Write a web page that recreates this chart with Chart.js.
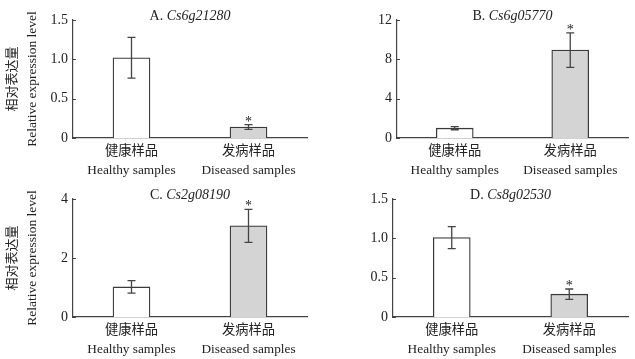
<!DOCTYPE html>
<html>
<head>
<meta charset="utf-8">
<script src="https://cdn.jsdelivr.net/npm/chart.js@4.4.0/dist/chart.umd.min.js"></script>
<style>
    body { margin: 0; background: #fff; }
    #wrap { position: relative; width: 635px; height: 359px; }
    .panel { position: absolute; width: 315px; height: 180px; }
</style>
</head>
<body>
<div id="wrap">
    <div class="panel" style="left:0;top:0"><canvas id="chart-a"></canvas></div>
    <div class="panel" style="left:315px;top:0"><canvas id="chart-b"></canvas></div>
    <div class="panel" style="left:0;top:179px"><canvas id="chart-c"></canvas></div>
    <div class="panel" style="left:315px;top:179px"><canvas id="chart-d"></canvas></div>
</div>
<script>
// categories (two-line labels)
var categories = [['健康样品', 'Healthy samples'], ['发病样品', 'Diseased samples']];

// panel titles
var panel_letters = ['A.', 'B.', 'C.', 'D.'];
var gene_names = ['Cs6g21280', 'Cs6g05770', 'Cs2g08190', 'Cs8g02530'];

// mean relative expression (healthy, diseased)
var values_a = [1.02, 0.14];
var values_b = [1.00, 8.94];
var values_c = [1.02, 3.09];
var values_d = [1.01, 0.29];

// error bar half-lengths
var errors_a = [0.26, 0.03];
var errors_b = [0.16, 1.76];
var errors_c = [0.21, 0.56];
var errors_d = [0.14, 0.066];

// significance marks
var stars = ['', '*'];

// y ticks
var ticks_a = [0, 0.5, 1.0, 1.5];
var ticks_b = [0, 4, 8, 12];
var ticks_c = [0, 2, 4];
var ticks_d = [0, 0.5, 1.0, 1.5];

var y_title_cn = '相对表达量';
var y_title_en = 'Relative expression level';

var SERIF = '"Liberation Serif", "Times New Roman", "Noto Sans CJK SC", serif';
var AXIS_COLOR = '#444';

var panelDecor = {
    id: 'panelDecor',
    afterDatasetsDraw: function (chart, args, opts) {
        var ctx = chart.ctx;
        var area = chart.chartArea;
        var y = chart.scales.y;
        var meta = chart.getDatasetMeta(0);

        ctx.save();

        // inward tick marks on the y axis
        ctx.strokeStyle = AXIS_COLOR;
        ctx.lineWidth = 1;
        y.ticks.forEach(function (t) {
            var py = Math.round(y.getPixelForValue(t.value)) + 0.5;
            ctx.beginPath();
            ctx.moveTo(area.left, py);
            ctx.lineTo(area.left + 3, py);
            ctx.stroke();
        });

        // error bars and asterisks
        ctx.strokeStyle = '#444';
        ctx.lineWidth = 1.3;
        opts.values.forEach(function (v, i) {
            var px = meta.data[i].x;
            var top = y.getPixelForValue(v + opts.errors[i]);
            var bot = y.getPixelForValue(v - opts.errors[i]);
            ctx.beginPath();
            ctx.moveTo(px, top);
            ctx.lineTo(px, bot);
            ctx.moveTo(px - 4, top);
            ctx.lineTo(px + 4, top);
            ctx.moveTo(px - 4, bot);
            ctx.lineTo(px + 4, bot);
            ctx.stroke();
            if (stars[i]) {
                ctx.fillStyle = '#222';
                ctx.font = '14px ' + SERIF;
                ctx.textAlign = 'center';
                ctx.textBaseline = 'alphabetic';
                ctx.fillText(stars[i], px, top + 1);
            }
        });

        // panel title: letter upright, gene name italic
        ctx.fillStyle = '#222';
        ctx.textBaseline = 'alphabetic';
        ctx.textAlign = 'left';
        ctx.font = '14px ' + SERIF;
        var pre = opts.letter + ' ';
        var w1 = ctx.measureText(pre).width;
        ctx.font = 'italic 14px ' + SERIF;
        var w2 = ctx.measureText(opts.gene).width;
        var sx = (area.left + area.right) / 2 - (w1 + w2) / 2;
        ctx.font = '14px ' + SERIF;
        ctx.fillText(pre, sx, 20);
        ctx.font = 'italic 14px ' + SERIF;
        ctx.fillText(opts.gene, sx + w1, 20);

        // y axis title, two lines
        if (opts.yTitle) {
            var cy = (area.top + area.bottom) / 2;
            ctx.translate(0, cy);
            ctx.rotate(-Math.PI / 2);
            ctx.textAlign = 'center';
            ctx.textBaseline = 'middle';
            ctx.font = '13px ' + SERIF;
            ctx.fillText(y_title_cn, 0, 13);
            ctx.font = '13.5px ' + SERIF;
            ctx.fillText(y_title_en, 0, 32);
        }

        ctx.restore();
    }
};

function LoadPanel(canvas_id, letter, gene, values, errors, tick_values, axis_width, right_pad, y_title) {
    var ctx = document.getElementById(canvas_id);
    var y_max = tick_values[tick_values.length - 1];
    return new Chart(ctx, {
        type: 'bar',
        data: {
            labels: categories,
            datasets: [{
                data: values,
                backgroundColor: ['#ffffff', '#d4d4d4'],
                borderColor: '#3a3a3a',
                borderWidth: 1.3,
                borderSkipped: 'bottom',
                barThickness: 37
            }]
        },
        plugins: [panelDecor],
        options: {
            responsive: false,
            animation: false,
            devicePixelRatio: 1,
            layout: { padding: { top: 20, right: right_pad, left: 0, bottom: 0 } },
            plugins: {
                legend: { display: false },
                tooltip: { enabled: false },
                panelDecor: { letter: letter, gene: gene, values: values, errors: errors, yTitle: y_title }
            },
            scales: {
                x: {
                    grid: { display: false, drawTicks: false },
                    border: { display: true, color: AXIS_COLOR, width: 1.2 },
                    ticks: {
                        color: '#222',
                        padding: 4,
                        maxRotation: 0,
                        font: { family: SERIF, size: 13.3, lineHeight: 1.43 }
                    },
                    afterFit: function (scale) { scale.height = 42; }
                },
                y: {
                    min: 0,
                    max: y_max,
                    afterBuildTicks: function (scale) {
                        scale.ticks = tick_values.map(function (v) { return { value: v }; });
                    },
                    grid: { display: false, drawTicks: false },
                    border: { display: true, color: AXIS_COLOR, width: 1.2 },
                    ticks: {
                        color: '#222',
                        padding: 5,
                        font: { family: SERIF, size: 14 },
                        callback: function (v) {
                            if (v === 0) return '0';
                            return Number.isInteger(y_max) && y_max > 2 ? String(v) : v.toFixed(1);
                        }
                    },
                    afterFit: function (scale) { scale.width = axis_width; }
                }
            }
        }
    });
}

function sizeCanvas(id) {
    var c = document.getElementById(id);
    c.width = 315;
    c.height = 180;
    c.style.width = '315px';
    c.style.height = '180px';
}

['chart-a', 'chart-b', 'chart-c', 'chart-d'].forEach(sizeCanvas);

LoadPanel('chart-a', panel_letters[0], gene_names[0], values_a, errors_a, ticks_a, 73, 8, true);
LoadPanel('chart-b', panel_letters[1], gene_names[1], values_b, errors_b, ticks_b, 82, 2, false);
LoadPanel('chart-c', panel_letters[2], gene_names[2], values_c, errors_c, ticks_c, 73, 8, true);
LoadPanel('chart-d', panel_letters[3], gene_names[3], values_d, errors_d, ticks_d, 78, 2, false);
</script>
</body>
</html>
